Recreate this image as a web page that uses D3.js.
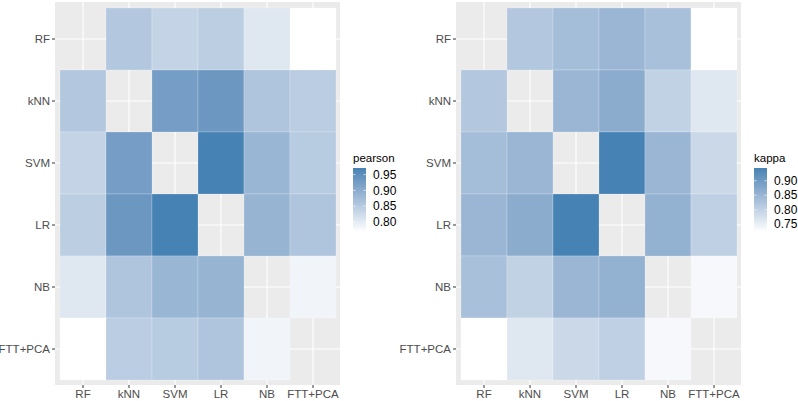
<!DOCTYPE html>
<html>
<head>
<meta charset="utf-8">
<script src="https://cdn.jsdelivr.net/npm/d3@7"></script>
<style>
  body { margin: 0; background: #fff; }
  text { font-family: "Liberation Sans", Arial, sans-serif; }
</style>
</head>
<body>
<div class="chart"></div>
<script>
// models on both axes
const models = ["RF", "kNN", "SVM", "LR", "NB", "FTT+PCA"]

// pairwise agreement, symmetric, diagonal left empty
const pearson = [
	[null, 0.855, 0.835, 0.845, 0.805, 0.768],
	[0.855, null, 0.924, 0.935, 0.860, 0.847],
	[0.835, 0.924, null, 0.971, 0.884, 0.850],
	[0.845, 0.935, 0.971, null, 0.886, 0.860],
	[0.805, 0.860, 0.884, 0.886, null, 0.784],
	[0.768, 0.847, 0.850, 0.860, 0.784, null]
]
const kappa = [
	[null, 0.818, 0.836, 0.849, 0.831, 0.723],
	[0.818, null, 0.849, 0.866, 0.800, 0.763],
	[0.836, 0.849, null, 0.944, 0.849, 0.789],
	[0.849, 0.866, 0.944, null, 0.857, 0.803],
	[0.831, 0.800, 0.849, 0.857, null, 0.734],
	[0.723, 0.763, 0.789, 0.803, 0.734, null]
]
const pearsonTicks = [0.80, 0.85, 0.90, 0.95]
const kappaTicks = [0.75, 0.80, 0.85, 0.90]

const width = 798, height = 401

const svg = d3.select(".chart")
	.append("svg")
	.attr("width", width)
	.attr("height", height)

let gradId = 0

function heatmap(values, ticks, title, offsetX) {
	const g = svg.append("g").attr("transform", `translate(${offsetX},0)`)

	const panel = { x0: 55, x1: 340, y0: 2, y1: 385 }
	const x = d3.scaleBand().domain(models).range([60, 336])
	const y = d3.scaleBand().domain(models).range([8, 380])

	const flat = values.flat().filter(v => v != null)
	const lo = d3.min(flat), hi = d3.max(flat)
	const color = d3.scaleLinear().domain([lo, hi])
		.range(["white", "steelblue"])
		.interpolate(d3.interpolateLab)

	// panel background + grid
	g.append("rect")
		.attr("x", panel.x0).attr("y", panel.y0)
		.attr("width", panel.x1 - panel.x0).attr("height", panel.y1 - panel.y0)
		.attr("fill", "#ebebeb")
	models.forEach(m => {
		g.append("line")
			.attr("x1", x(m) + x.bandwidth() / 2).attr("x2", x(m) + x.bandwidth() / 2)
			.attr("y1", panel.y0).attr("y2", panel.y1)
			.attr("stroke", "white").attr("stroke-width", 1.1)
		g.append("line")
			.attr("y1", y(m) + y.bandwidth() / 2).attr("y2", y(m) + y.bandwidth() / 2)
			.attr("x1", panel.x0).attr("x2", panel.x1)
			.attr("stroke", "white").attr("stroke-width", 1.1)
	})

	const cells = []
	values.forEach((row, i) => row.forEach((v, j) => {
		if (v != null) cells.push({ row: models[i], col: models[j], v: v })
	}))

	g.selectAll("rect.tile")
		.data(cells)
		.join("rect")
		.attr("class", "tile")
		.attr("x", d => x(d.col))
		.attr("y", d => y(d.row))
		.attr("width", x.bandwidth())
		.attr("height", y.bandwidth())
		.attr("fill", d => color(d.v))
		.attr("stroke", "rgba(255,255,255,0.35)")
		.attr("stroke-width", 0.6)

	// axes
	const yAxis = g.append("g")
		.attr("transform", `translate(${panel.x0},0)`)
		.call(d3.axisLeft(y).tickSize(3).tickPadding(2))
	const xAxis = g.append("g")
		.attr("transform", `translate(0,${panel.y1})`)
		.call(d3.axisBottom(x).tickSize(3).tickPadding(2))
	;[xAxis, yAxis].forEach(a => {
		a.select(".domain").remove()
		a.selectAll(".tick line").attr("stroke", "#333333")
		a.selectAll(".tick text")
			.attr("fill", "#4d4d4d")
			.style("font-size", "11.5px")
			.style("font-family", "'Liberation Sans', Arial, sans-serif")
	})

	// colourbar legend
	const bar = { x: 353, y0: 168, y1: 232, w: 13 }
	const id = "grad" + (gradId++)
	const grad = svg.append("defs").append("linearGradient")
		.attr("id", id)
		.attr("x1", 0).attr("x2", 0).attr("y1", 1).attr("y2", 0)
	d3.range(0, 1.0001, 0.1).forEach(t => {
		grad.append("stop")
			.attr("offset", t)
			.attr("stop-color", color(lo + t * (hi - lo)))
	})
	const leg = d3.scaleLinear().domain([lo, hi]).range([bar.y1, bar.y0])

	g.append("text")
		.attr("x", bar.x)
		.attr("y", bar.y0 - 6)
		.style("font-size", "11.5px")
		.attr("fill", "black")
		.text(title)
	g.append("rect")
		.attr("x", bar.x).attr("y", bar.y0)
		.attr("width", bar.w).attr("height", bar.y1 - bar.y0)
		.attr("fill", `url(#${id})`)
	ticks.forEach(t => {
		g.append("line")
			.attr("x1", bar.x).attr("x2", bar.x + 2.6)
			.attr("y1", leg(t)).attr("y2", leg(t))
			.attr("stroke", "white").attr("stroke-width", 0.6)
		g.append("line")
			.attr("x1", bar.x + bar.w - 2.6).attr("x2", bar.x + bar.w)
			.attr("y1", leg(t)).attr("y2", leg(t))
			.attr("stroke", "white").attr("stroke-width", 0.6)
		g.append("text")
			.attr("x", bar.x + bar.w + 7)
			.attr("y", leg(t))
			.attr("dy", "0.35em")
			.style("font-size", "12px")
			.attr("fill", "black")
			.text(t.toFixed(2))
	})
}

heatmap(pearson, pearsonTicks, "pearson", 0)
heatmap(kappa, kappaTicks, "kappa", 401)
</script>
</body>
</html>
